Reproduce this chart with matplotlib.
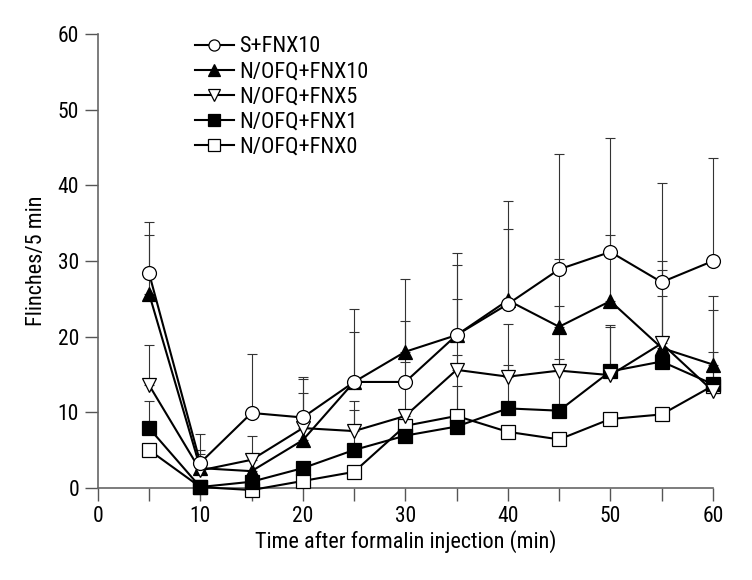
import numpy as np
import matplotlib
matplotlib.use('Agg')
import matplotlib.pyplot as plt

plt.rcParams['font.family'] = ['Roboto Condensed', 'Liberation Sans Narrow', 'Roboto', 'DejaVu Sans']

time = [5, 10, 15, 20, 25, 30, 35, 40, 45, 50, 55, 60]

s_fnx10 = [28.4, 3.3, 9.9, 9.3, 14.0, 14.0, 20.2, 24.3, 28.9, 31.2, 27.2, 30.0]
s_fnx10_top = [35.1, 7.1, 17.7, 14.6, 23.7, 27.6, 31.1, 38.0, 44.1, 46.3, 40.3, 43.6]

n_fnx10 = [25.7, 2.6, 2.2, 6.3, 14.0, 18.0, 20.2, 24.8, 21.3, 24.7, 18.5, 16.3]
n_fnx10_top = [33.5, 5.0, 6.8, 14.4, 20.6, 22.0, 29.5, 34.2, 30.3, 33.5, 30.0, 25.4]

n_fnx5 = [13.6, 2.3, 3.7, 7.9, 7.5, 9.5, 15.6, 14.7, 15.5, 14.9, 19.1, 12.8]
n_fnx5_top = [18.9, 4.5, 4.5, 12.6, 11.5, 16.7, 25.0, 21.7, 24.1, 21.5, 28.8, 23.5]

n_fnx1 = [7.9, 0.1, 0.8, 2.6, 5.0, 6.9, 8.1, 10.5, 10.2, 15.4, 16.7, 13.7]
n_fnx1_top = [11.5, 0.1, 0.8, 2.6, 10.3, 6.9, 17.5, 16.2, 17.1, 21.3, 25.4, 17.9]

n_fnx0 = [5.0, 0.1, -0.3, 0.9, 2.1, 8.2, 9.5, 7.4, 6.4, 9.1, 9.7, 13.5]
n_fnx0_top = [5.0, 0.1, -0.3, 0.9, 2.1, 8.2, 13.5, 7.4, 6.4, 9.1, 9.7, 13.5]

labels = ['S+FNX10', 'N/OFQ+FNX10', 'N/OFQ+FNX5', 'N/OFQ+FNX1', 'N/OFQ+FNX0']

fig = plt.figure(figsize=(7.52, 5.80), dpi=100)
ax = fig.add_axes([0.130, 0.159, 0.818, 0.782])

# (values, upper cap, marker, face, label, zorder)
series = [
    (n_fnx0, n_fnx0_top, 's', 'white', labels[4], 3),
    (n_fnx1, n_fnx1_top, 's', 'black', labels[3], 4),
    (n_fnx10, n_fnx10_top, '^', 'black', labels[1], 5),
    (n_fnx5, n_fnx5_top, 'v', 'white', labels[2], 6),
    (s_fnx10, s_fnx10_top, 'o', 'white', labels[0], 7),
]

handles = {}
for vals, top, mk, fc, lab, z in series:
    vals = np.array(vals)
    up = np.array(top) - vals
    eb = ax.errorbar(time, vals, yerr=[np.zeros_like(up), up], fmt='none',
                     ecolor='#333333', elinewidth=0.8, capsize=3.5, capthick=0.8,
                     zorder=2)
    for art in eb.lines[1] + eb.lines[2]:
        art.set_clip_on(False)
    ln, = ax.plot(time, vals, color='black', lw=1.5, marker=mk, ms=10,
                  mfc=fc, mec='black', mew=0.9, label=lab, zorder=z,
                  clip_on=False)
    handles[lab] = ln

ax.legend([handles[l] for l in labels], labels, loc='upper left',
          bbox_to_anchor=(0.143, 1.015), frameon=False, fontsize=16,
          handlelength=1.75, handletextpad=0.25, labelspacing=0.18,
          borderaxespad=0, markerscale=0.8)

ax.set_xlim(0, 60)
ax.set_ylim(0, 60)
ax.set_xticks(range(0, 61, 5))
ax.set_xticklabels([str(t) if t % 10 == 0 else '' for t in range(0, 61, 5)])
ax.set_yticks(range(0, 61, 10))
ax.tick_params(axis='both', direction='out', length=9.4, width=1,
               color='#555555', labelsize=15.5, pad=4)
for s in ['top', 'right']:
    ax.spines[s].set_visible(False)
for s in ['left', 'bottom']:
    ax.spines[s].set_color('#666666')
    ax.spines[s].set_linewidth(1.2)

ax.set_xlabel('Time after formalin injection (min)', fontsize=16, labelpad=2)
ax.set_ylabel('Flinches/5 min', fontsize=16, labelpad=8)

fig.savefig('out.png', dpi=100)
